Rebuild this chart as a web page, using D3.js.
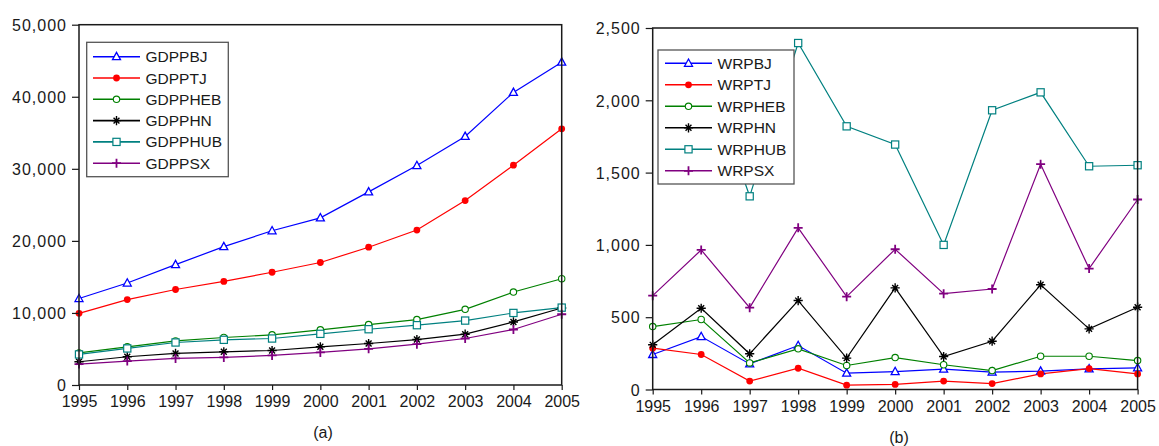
<!DOCTYPE html>
<html><head><meta charset="utf-8">
<script src="https://cdn.jsdelivr.net/npm/d3@7"></script>
<style>
html,body{margin:0;padding:0;background:#fff;}
svg text{font-family:"Liberation Sans",Arial,sans-serif;fill:#1a1a1a;}
</style></head>
<body>
<svg id="c" width="1159" height="446"></svg>
<script>
const years = [1995,1996,1997,1998,1999,2000,2001,2002,2003,2004,2005];

// Panel (a): GDP per capita
const gdpNames = ["GDPPBJ","GDPPTJ","GDPPHEB","GDPPHN","GDPPHUB","GDPPSX"];
const GDPPBJ  = [12000,14150,16700,19200,21400,23200,26800,30450,34500,40600,44800];
const GDPPTJ  = [9950,11850,13250,14380,15650,17000,19120,21500,25600,30500,35550];
const GDPPHEB = [4450,5300,6120,6590,6960,7650,8390,9080,10500,12900,14750];
const GDPPHN  = [3230,3920,4380,4610,4790,5300,5760,6310,7050,8750,10690];
const GDPPHUB = [4240,5070,5900,6270,6450,7100,7740,8300,8940,10000,10740];
const GDPPSX  = [2900,3320,3690,3830,4100,4520,5020,5670,6450,7700,9820];
const gdpTicks = [0,10000,20000,30000,40000,50000];

// Panel (b)
const wrpNames = ["WRPBJ","WRPTJ","WRPHEB","WRPHN","WRPHUB","WRPSX"];
const WRPBJ  = [242,366,177,304,113,124,141,120,127,143,150];
const WRPTJ  = [286,242,58,147,30,35,58,41,108,145,108];
const WRPHEB = [435,484,184,281,166,221,171,131,230,230,200];
const WRPHN  = [309,562,247,615,217,703,228,334,724,419,569];
const WRPHUB = [null,2300,1336,2396,1820,1694,1000,1931,2055,1544,1551];
const WRPSX  = [649,965,566,1118,642,970,663,695,1558,836,1314];
const wrpTicks = [0,500,1000,1500,2000,2500];

const colors = ["#0000ff","#ff0000","#008000","#000000","#008080","#800080"];
const markers = ["triangle","dot","circle","star","square","plus"];

const svg = d3.select("#c");
const fmt = d3.format(",");

function drawMarker(g, type, color, x, y){
  if(type==="triangle"){
    g.append("path").attr("d",`M${x},${y-4.3}L${x+4},${y+3}L${x-4},${y+3}Z`)
      .attr("fill","#fff").attr("stroke",color).attr("stroke-width",1.3);
  } else if(type==="dot"){
    g.append("circle").attr("cx",x).attr("cy",y).attr("r",3.4).attr("fill",color);
  } else if(type==="circle"){
    g.append("circle").attr("cx",x).attr("cy",y).attr("r",3.2)
      .attr("fill","#fff").attr("stroke",color).attr("stroke-width",1.1);
  } else if(type==="square"){
    g.append("rect").attr("x",x-3.6).attr("y",y-3.6).attr("width",7.2).attr("height",7.2)
      .attr("fill","#fff").attr("stroke",color).attr("stroke-width",1.2);
  } else if(type==="star"){
    const r=4.6, d=r*0.8;
    g.append("path").attr("d",`M${x-r},${y}L${x+r},${y}M${x},${y-r}L${x},${y+r}M${x-d*0.8},${y-d*0.8}L${x+d*0.8},${y+d*0.8}M${x-d*0.8},${y+d*0.8}L${x+d*0.8},${y-d*0.8}`)
      .attr("stroke",color).attr("stroke-width",1.4).attr("fill","none");
  } else if(type==="plus"){
    const r=4.5;
    g.append("path").attr("d",`M${x-r},${y}L${x+r},${y}M${x},${y-r}L${x},${y+r}`)
      .attr("stroke",color).attr("stroke-width",1.8).attr("fill","none");
  }
}

function panel(opt){
  const x = d3.scaleLinear().domain([1995,2005]).range([opt.x0,opt.x1]);
  const y = d3.scaleLinear().domain([0,opt.ymax]).range([opt.yb,opt.yt]);
  const g = svg.append("g");
  const plot = g.append("g");
  opt.series.forEach((s,i)=>{
    const pts = years.map((yr,k)=>({yr, v:s[k]}));
    const line = d3.line().defined(d=>d.v!=null).x(d=>x(d.yr)).y(d=>y(d.v));
    plot.append("path").attr("d",line(pts)).attr("fill","none")
      .attr("stroke",colors[i]).attr("stroke-width",1.2);
  });
  opt.series.forEach((s,i)=>{
    years.forEach((yr,k)=>{ if(s[k]!=null) drawMarker(plot,markers[i],colors[i],x(yr),y(s[k])); });
  });
  g.append("rect").attr("x",opt.x0).attr("y",opt.yt).attr("width",opt.x1-opt.x0).attr("height",opt.yb-opt.yt)
    .attr("fill","none").attr("stroke","#1a1a1a").attr("stroke-width",1.5);
  const ya = g.append("g").attr("transform",`translate(${opt.x0},0)`)
    .call(d3.axisLeft(y).tickValues(opt.ticks).tickFormat(fmt).tickSize(7).tickPadding(5));
  ya.select(".domain").remove();
  ya.selectAll("line").attr("stroke","#1a1a1a").attr("stroke-width",1.2);
  ya.selectAll("text").attr("font-size","16px").attr("fill","#1a1a1a").attr("dy","0.36em")
    .attr("letter-spacing","1px");
  const xa = g.append("g").attr("transform",`translate(0,${opt.yb})`)
    .call(d3.axisBottom(x).tickValues(years).tickFormat(d3.format("d")).tickSize(5).tickPadding(6));
  xa.select(".domain").remove();
  xa.selectAll("line").attr("stroke","#1a1a1a").attr("stroke-width",1.2);
  xa.selectAll("text").attr("font-size","16px").attr("fill","#1a1a1a");
  const L = opt.legend;
  const lg = g.append("g");
  lg.append("rect").attr("x",L.x).attr("y",L.y).attr("width",L.w).attr("height",L.h)
    .attr("fill","#fff").attr("stroke","#555").attr("stroke-width",1.3);
  opt.names.forEach((n,i)=>{
    const yy = L.y + L.first + i*L.step;
    lg.append("line").attr("x1",L.lx0).attr("x2",L.lx1).attr("y1",yy).attr("y2",yy)
      .attr("stroke",colors[i]).attr("stroke-width",1.6);
    drawMarker(lg,markers[i],colors[i],(L.lx0+L.lx1)/2,yy);
    lg.append("text").attr("x",L.tx).attr("y",yy).attr("dy","0.36em")
      .attr("font-size","15.5px").text(n);
  });
  g.append("text").attr("x",opt.capX).attr("y",opt.capY).attr("text-anchor","middle")
    .attr("font-size","16px").text(opt.caption);
}

panel({x0:79,x1:561.7,yb:385,yt:24.7,ymax:50000,ticks:gdpTicks,
  series:[GDPPBJ,GDPPTJ,GDPPHEB,GDPPHN,GDPPHUB,GDPPSX],names:gdpNames,
  legend:{x:86.7,y:42.3,w:141.6,h:134.4,first:14.4,step:21.3,lx0:93,lx1:140,tx:145.5},
  caption:"(a)",capX:323,capY:438});

panel({x0:652.7,x1:1137.6,yb:389.5,yt:28,ymax:2500,ticks:wrpTicks,
  series:[WRPBJ,WRPTJ,WRPHEB,WRPHN,WRPHUB,WRPSX],names:wrpNames,
  legend:{x:658,y:50,w:136,h:134,first:13.3,step:21.5,lx0:665,lx1:712,tx:717.5},
  caption:"(b)",capX:899,capY:443});
</script>
</body></html>
